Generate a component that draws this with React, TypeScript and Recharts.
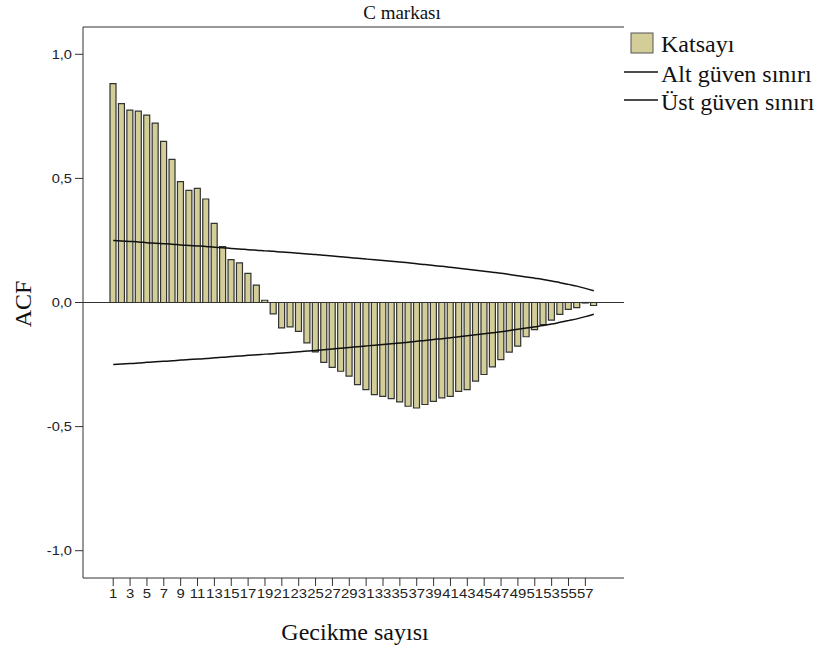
import { ComposedChart, Bar, Line, XAxis, YAxis, ReferenceLine } from 'recharts';

// gecikme numaraları 1..58
const lags = Array.from({ length: 58 }, (_, i) => i + 1);

// otokorelasyon katsayıları
const katsayi = [
  0.882, 0.801, 0.775, 0.771, 0.755, 0.723, 0.649, 0.577, 0.487, 0.452,
  0.46, 0.417, 0.319, 0.225, 0.173, 0.16, 0.117, 0.07, 0.009, -0.046,
  -0.102, -0.098, -0.116, -0.163, -0.199, -0.241, -0.261, -0.277, -0.297, -0.331,
  -0.351, -0.371, -0.378, -0.387, -0.4, -0.418, -0.425, -0.411, -0.398, -0.384,
  -0.378, -0.358, -0.351, -0.317, -0.29, -0.259, -0.23, -0.2, -0.176, -0.138,
  -0.109, -0.089, -0.071, -0.048, -0.028, -0.021, -0.002, -0.012,
];

// güven sınırları
const ustSinir = [
  0.25, 0.248, 0.246, 0.244, 0.241, 0.239, 0.237, 0.235, 0.232, 0.23,
  0.228, 0.226, 0.223, 0.221, 0.218, 0.216, 0.213, 0.211, 0.208, 0.206,
  0.203, 0.201, 0.198, 0.195, 0.193, 0.19, 0.187, 0.184, 0.181, 0.178,
  0.175, 0.172, 0.169, 0.166, 0.163, 0.16, 0.156, 0.153, 0.149, 0.146,
  0.142, 0.138, 0.134, 0.13, 0.126, 0.122, 0.118, 0.113, 0.108, 0.103,
  0.098, 0.093, 0.087, 0.08, 0.073, 0.066, 0.057, 0.047,
];
const altSinir = [
  -0.25, -0.248, -0.246, -0.244, -0.241, -0.239, -0.237, -0.235, -0.232, -0.23,
  -0.228, -0.226, -0.223, -0.221, -0.218, -0.216, -0.213, -0.211, -0.208, -0.206,
  -0.203, -0.201, -0.198, -0.195, -0.193, -0.19, -0.187, -0.184, -0.181, -0.178,
  -0.175, -0.172, -0.169, -0.166, -0.163, -0.16, -0.156, -0.153, -0.149, -0.146,
  -0.142, -0.138, -0.134, -0.13, -0.126, -0.122, -0.118, -0.113, -0.108, -0.103,
  -0.098, -0.093, -0.087, -0.08, -0.073, -0.066, -0.057, -0.047,
];

const yTicks = [-1, -0.5, 0, 0.5, 1];

const data = lags.map((lag, i) => ({
  lag,
  katsayi: katsayi[i],
  alt: altSinir[i],
  ust: ustSinir[i],
}));

const serif = '"Liberation Serif", "Times New Roman", serif';
const sans = '"Liberation Sans", Arial, sans-serif';
const barFill = '#d3ce97';
const frame = '#333';

const fmt = (v: number) => v.toFixed(1).replace('.', ',');

// eksen yazıları yatayda biraz geniş çizilir
const XTick = (props: any) => {
  const { x, y, payload } = props;
  return (
    <g transform={`translate(${x},${y + 1})`}>
      <text transform="scale(1.24,1)" textAnchor="middle" dy="0.72em" fontSize={12} fontFamily={sans} fill="#222">
        {payload.value}
      </text>
    </g>
  );
};

const YTick = (props: any) => {
  const { x, y, payload } = props;
  return (
    <g transform={`translate(${x},${y})`}>
      <text transform="scale(1.22,1)" textAnchor="end" dy="0.36em" fontSize={12} fontFamily={sans} fill="#222">
        {fmt(payload.value)}
      </text>
    </g>
  );
};

export default function App() {
  return (
    <div style={{ position: 'absolute', left: 0, top: 0, width: 832, height: 652, background: '#fff' }}>
      <ComposedChart
        width={832}
        height={652}
        data={data}
        margin={{ top: 27, right: 208, bottom: 0, left: 0 }}
      >
        <XAxis
          dataKey="lag"
          interval={1}
          height={74}
          padding={{ left: 26, right: 26 }}
          tickSize={8}
          tickMargin={2}
          stroke={frame}
          tick={<XTick />}
        />
        <YAxis
          domain={[-1.11, 1.11]}
          ticks={yTicks}
          width={83}
          tickSize={8}
          tickMargin={3}
          stroke={frame}
          tick={<YTick />}
        />
        <YAxis
          yAxisId="sag"
          orientation="right"
          domain={[-1.11, 1.11]}
          width={0}
          tick={false}
          tickLine={false}
          stroke={frame}
        />
        <ReferenceLine y={1.11} stroke={frame} />
        <ReferenceLine y={0} stroke={frame} />
        <Bar
          dataKey="katsayi"
          name="Katsayı"
          barSize={6}
          fill={barFill}
          stroke="#333"
          strokeWidth={1.2}
          isAnimationActive={false}
        />
        <Line
          dataKey="alt"
          name="Alt güven sınırı"
          type="monotone"
          stroke="#111"
          strokeWidth={1.5}
          dot={false}
          activeDot={false}
          isAnimationActive={false}
        />
        <Line
          dataKey="ust"
          name="Üst güven sınırı"
          type="monotone"
          stroke="#111"
          strokeWidth={1.5}
          dot={false}
          activeDot={false}
          isAnimationActive={false}
        />

        {/* başlık ve eksen adları */}
        <text x={402} y={19} textAnchor="middle" fontFamily={serif} fontSize={19} fill="#111">
          C markası
        </text>
        <text
          x={31}
          y={304}
          textAnchor="middle"
          fontFamily={serif}
          fontSize={24}
          fill="#111"
          transform="rotate(-90 31 304)"
        >
          ACF
        </text>
        <text x={355} y={640} textAnchor="middle" fontFamily={serif} fontSize={24} fill="#111">
          Gecikme sayısı
        </text>

        {/* gösterge */}
        <rect x={631} y={33} width={22} height={20} fill={barFill} stroke="#555" />
        <text x={661} y={52} fontFamily={serif} fontSize={24} fill="#111">Katsayı</text>
        <line x1={624} x2={658} y1={72} y2={72} stroke="#111" strokeWidth={1.5} />
        <text x={661} y={82} fontFamily={serif} fontSize={24} fill="#111">Alt güven sınırı</text>
        <line x1={624} x2={658} y1={100} y2={100} stroke="#111" strokeWidth={1.5} />
        <text x={661} y={110} fontFamily={serif} fontSize={24} fill="#111">Üst güven sınırı</text>
      </ComposedChart>
    </div>
  );
}
